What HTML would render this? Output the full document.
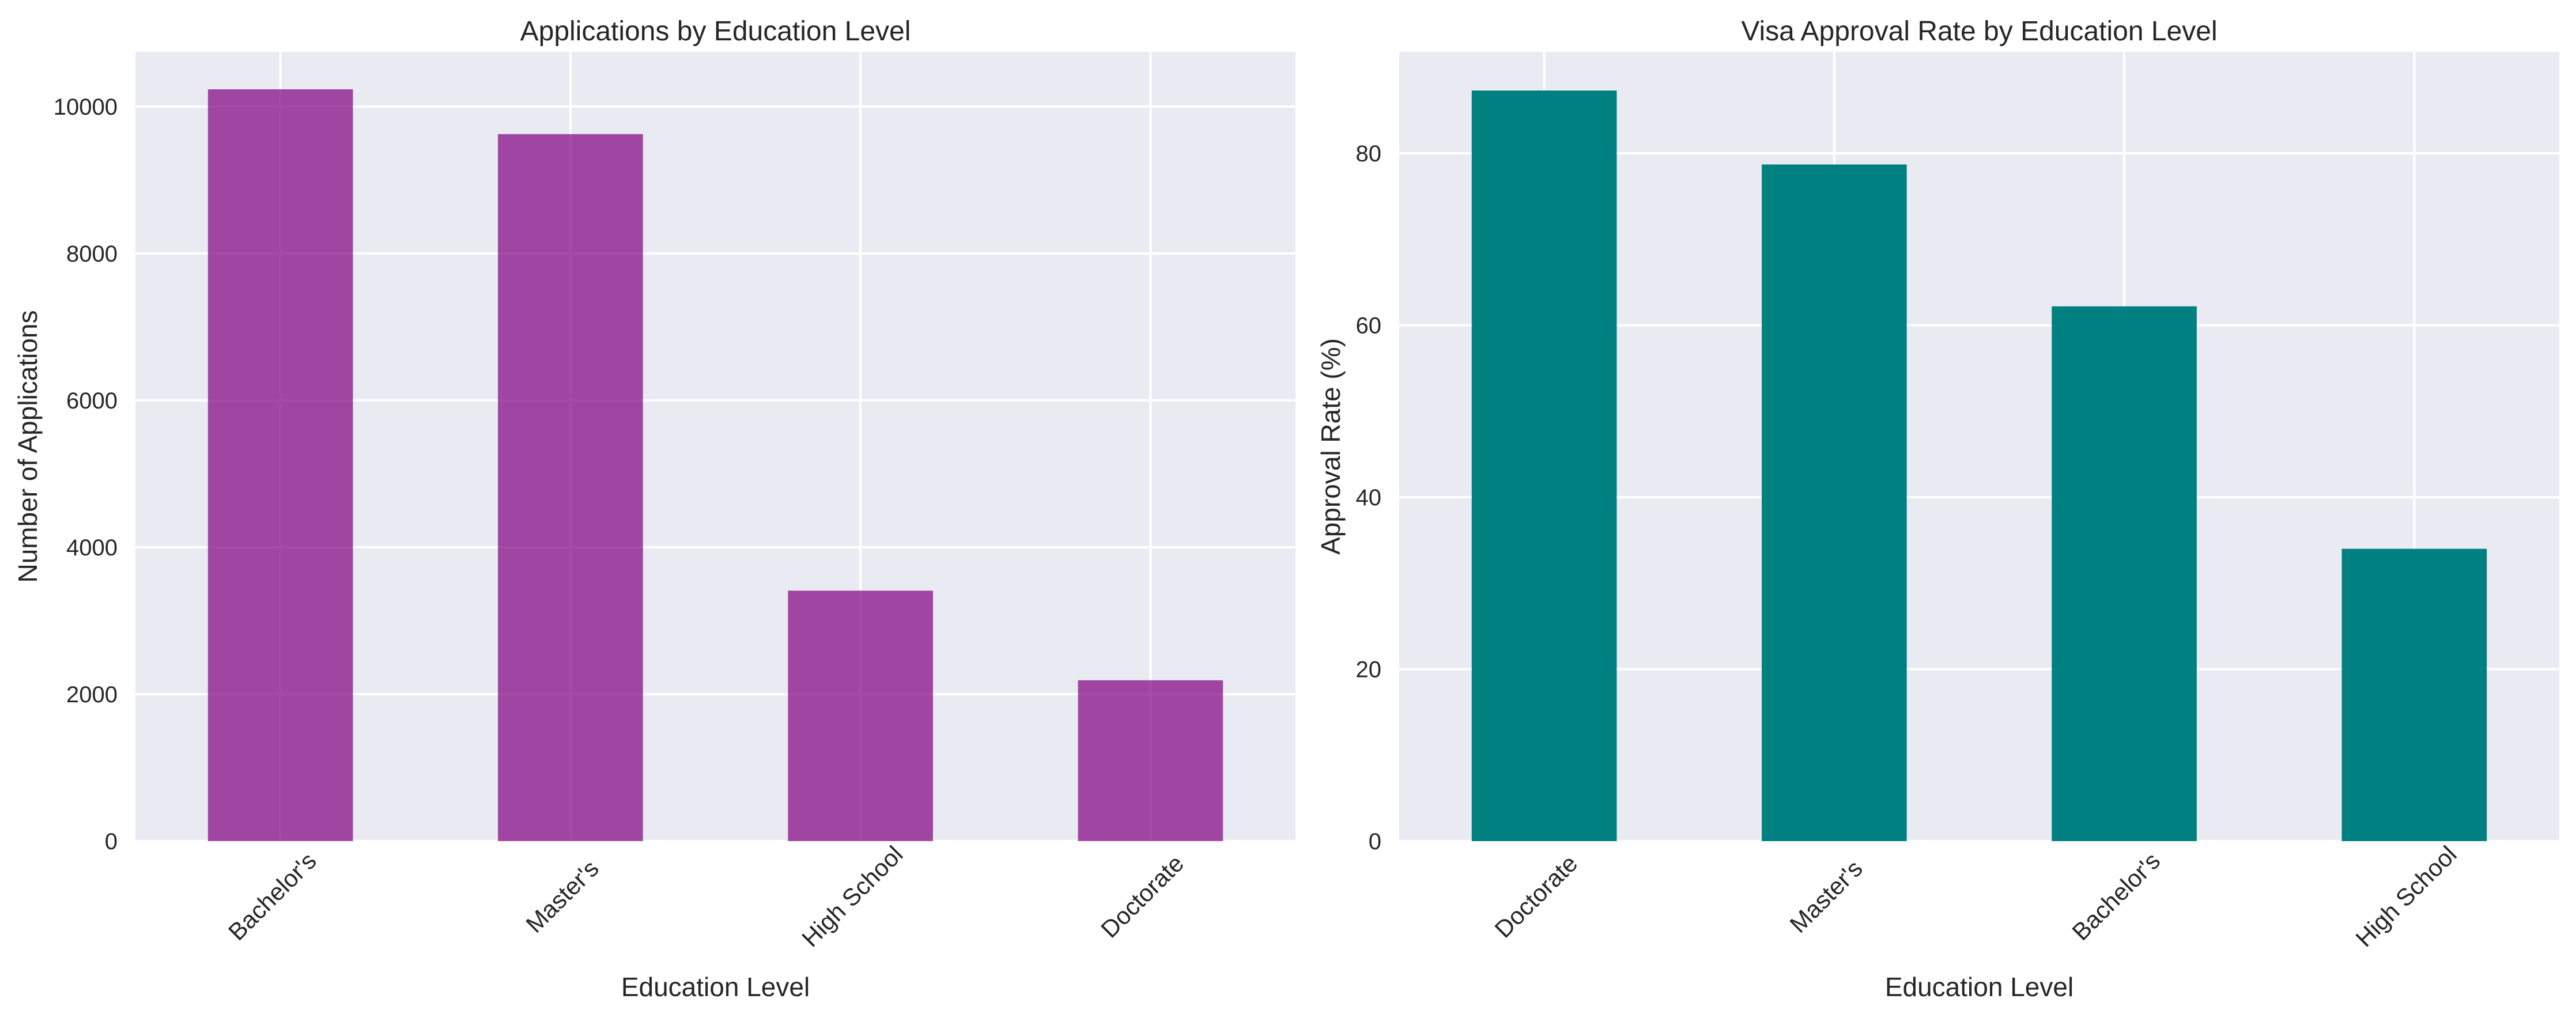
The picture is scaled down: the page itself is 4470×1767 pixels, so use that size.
<!DOCTYPE html>
<html><head><meta charset="utf-8"><style>
html,body{margin:0;padding:0;background:#fff;}
svg{display:block;font-family:"Liberation Sans",Arial,sans-serif;}
</style></head><body>
<svg id="chart" width="4470" height="1767" viewBox="0 0 4470 1767" xmlns="http://www.w3.org/2000/svg"></svg>
<script>
const leftCategories = ["Bachelor's", "Master's", "High School", "Doctorate"];
const leftValues = [10235, 9625, 3410, 2190];
const leftTicks = [0, 2000, 4000, 6000, 8000, 10000];
const rightCategories = ["Doctorate", "Master's", "Bachelor's", "High School"];
const rightValues = [87.3, 78.7, 62.2, 34.0];
const rightTicks = [0, 20, 40, 60, 80];

const NS = "http://www.w3.org/2000/svg";
const svg = document.getElementById('chart');
function mk(tag, attrs, parent) {
  const e = document.createElementNS(NS, tag);
  for (const k in attrs) e.setAttribute(k, attrs[k]);
  (parent || svg).appendChild(e);
  return e;
}
const TOP = 90, BOTTOM = 1460;

function panel(opt) {
  const g = mk('g', {});
  
  
  const x0 = opt.x0, x1 = opt.x1, W = x1 - x0, n = opt.cats.length;
  const yScale = v => BOTTOM - (v / opt.ymax) * (BOTTOM - TOP);
  const xScale = i => x0 + (i + 0.5) * W / n;
  const bg = mk('rect', {x: x0, y: TOP, width: W, height: BOTTOM - TOP, fill: '#eaeaf2'}, g);
  
  
  opt.ticks.forEach(t => {
    const y = yScale(t);
    const gl = mk('line', {x1: x0, x2: x1, y1: y, y2: y, stroke: '#fff', 'stroke-width': 4}, g);
    
    
    const tl = mk('text', {x: x0 - 31, y: y + 14, 'text-anchor': 'end', 'font-size': 40, fill: '#262626'}, g);
    tl.textContent = String(t);
    
    
  });
  opt.cats.forEach((c, i) => {
    const x = xScale(i);
    const gl = mk('line', {x1: x, x2: x, y1: TOP, y2: BOTTOM, stroke: '#fff', 'stroke-width': 4}, g);
    
    
  });
  opt.cats.forEach((c, i) => {
    const x = xScale(i), bw = W / n * 0.5;
    const y = yScale(opt.vals[i]);
    const b = mk('rect', {x: x - bw / 2, y: y, width: bw, height: BOTTOM - y, fill: opt.color, 'fill-opacity': opt.opacity}, g);
    
    
    const tx = mk('text', {x: 0, y: 0, 'text-anchor': 'middle', 'font-size': 42, fill: '#262626',
      transform: 'translate(' + (x - 4) + ',' + (BOTTOM + 106) + ') rotate(-45)'}, g);
    tx.textContent = c;
    
    
  });
  const cx = (x0 + x1) / 2;
  const title = mk('text', {x: cx, y: 70, 'text-anchor': 'middle', 'font-size': 48, fill: '#262626'}, g);
  title.textContent = opt.title;
  
  
  const xl = mk('text', {x: cx, y: 1729, 'text-anchor': 'middle', 'font-size': 46, fill: '#262626'}, g);
  xl.textContent = 'Education Level';
  
  
  const yl = mk('text', {x: 0, y: 0, 'text-anchor': 'middle', 'font-size': 46, fill: '#262626',
    transform: 'translate(' + opt.ylx + ',' + ((TOP + BOTTOM) / 2) + ') rotate(-90)'}, g);
  yl.textContent = opt.ylabel;
  
  
}

panel({name: 'applications-panel', x0: 235, x1: 2248, cats: leftCategories, vals: leftValues,
  ticks: leftTicks, ymax: 10745, color: '#800080', opacity: 0.7,
  title: 'Applications by Education Level', ylabel: 'Number of Applications', ylx: 64});
panel({name: 'approval-rate-panel', x0: 2428, x1: 4441, cats: rightCategories, vals: rightValues,
  ticks: rightTicks, ymax: 91.8, color: '#008080', opacity: 1,
  title: 'Visa Approval Rate by Education Level', ylabel: 'Approval Rate (%)', ylx: 2325});
</script>
</body></html>
